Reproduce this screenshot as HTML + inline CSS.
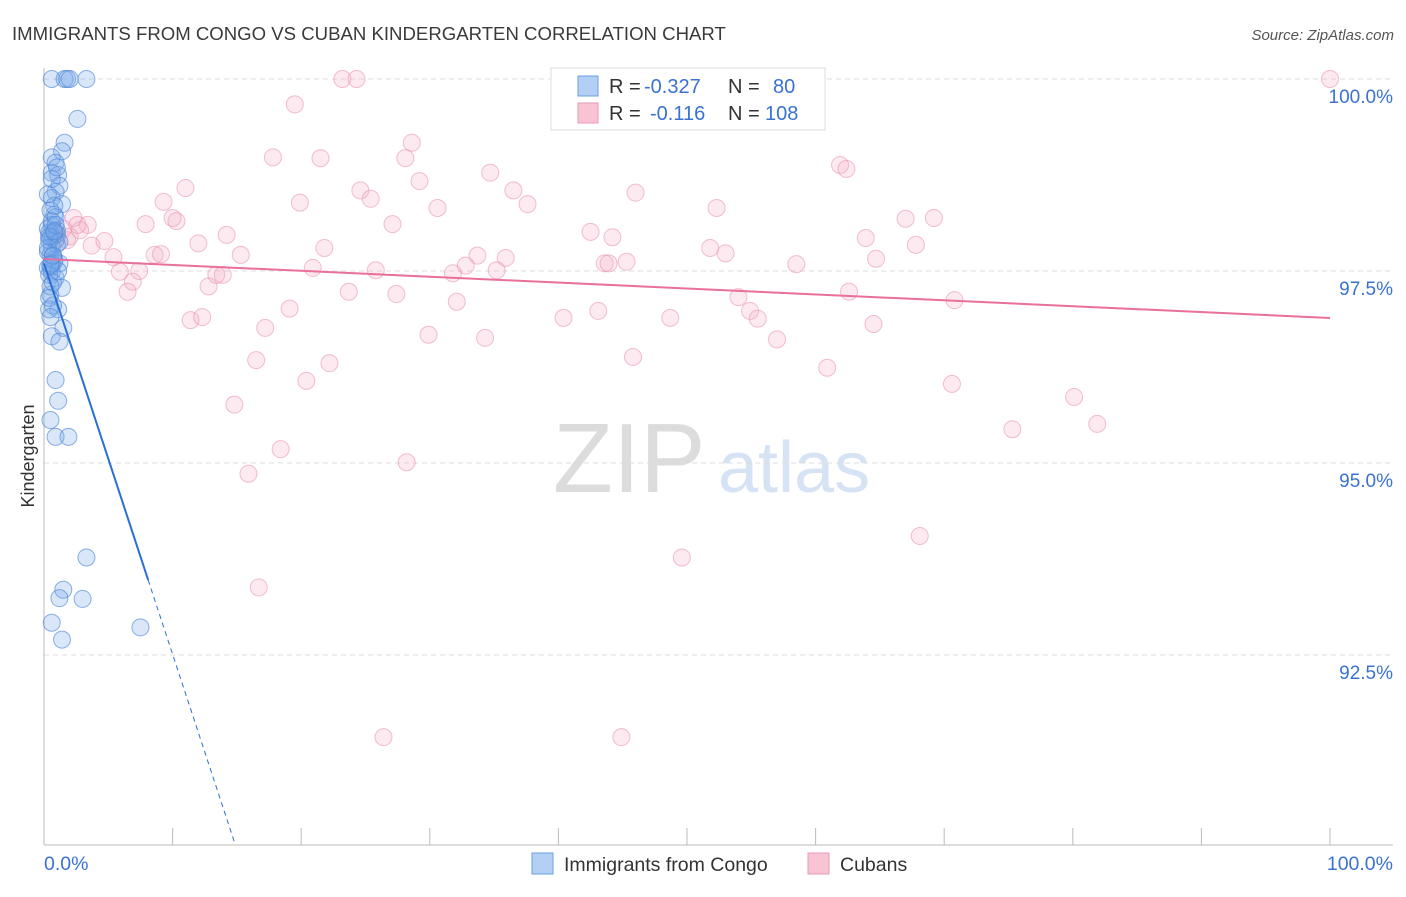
<!DOCTYPE html>
<html><head><meta charset="utf-8"><style>
body{margin:0;background:#fff;font-family:"Liberation Sans",sans-serif;}
svg text{font-family:"Liberation Sans",sans-serif;}
</style></head><body>
<svg id="chart" width="1406" height="892" xmlns="http://www.w3.org/2000/svg">
<text x="12" y="40" font-size="18.6" fill="#3a3a3a">IMMIGRANTS FROM CONGO VS CUBAN KINDERGARTEN CORRELATION CHART</text>
<text x="1394" y="40" font-size="15" fill="#555" font-style="italic" text-anchor="end">Source: ZipAtlas.com</text>
<text x="34" y="456" font-size="18" fill="#333" transform="rotate(-90 34 456)" text-anchor="middle">Kindergarten</text>
<g>
<text x="553" y="492" font-size="98" font-family="Liberation Serif" fill="#dcdcdc">ZIP</text>
<text x="718" y="492" font-size="72" fill="#d6e3f5">atlas</text>
</g>
<g id="grid"></g><g id="axes"></g><g id="pink"></g><g id="blue"></g><g id="lines"></g>
<g>
<rect x="551" y="68" width="274" height="62" fill="#fff" stroke="#ddd"/>
<rect x="578" y="76" width="20" height="20" fill="#b3d0f4" stroke="#6aa0e0"/>
<rect x="578" y="103" width="20" height="20" fill="#f8c3d3" stroke="#e898b4"/>
<text x="609" y="93" font-size="20" fill="#333">R = <tspan x="644" fill="#3a72d0">-0.327</tspan><tspan x="728">N = </tspan><tspan x="773" fill="#3a72d0">80</tspan></text>
<text x="609" y="120" font-size="20" fill="#333">R = <tspan x="650" fill="#3a72d0">-0.116</tspan><tspan x="728">N = </tspan><tspan x="765" fill="#3a72d0">108</tspan></text>
</g>
<g>
<rect x="532" y="853" width="21" height="21" fill="#b3d0f4" stroke="#6aa0e0"/>
<text x="564" y="871" font-size="19.5" fill="#333">Immigrants from Congo</text>
<rect x="808" y="853" width="21" height="21" fill="#f8c3d3" stroke="#e898b4"/>
<text x="840" y="871" font-size="19.5" fill="#333">Cubans</text>
</g>
</svg>
<script>
const yTicks=[100,97.5,95,92.5];
const yTickLabels=["100.0%","97.5%","95.0%","92.5%"];
const blueX=[0.6,1.6,1.8,2.0,3.3,2.6,1.6,1.4,0.6,0.9,0.6,1.1,1.2,0.9,0.6,1.4,0.5,0.8,0.6,1.0,0.5,0.9,0.6,0.5,0.8,0.3,0.6,0.9,1.4,0.5,1.1,0.4,1.5,0.6,1.2,0.9,1.1,0.5,0.9,1.9,3.3,1.5,1.2,3.0,0.6,1.4,7.5,0.4,0.7,1.0,0.3,0.8,0.5,1.2,0.4,0.7,1.0,0.3,0.6,0.9,0.4,0.7,1.1,0.5,0.8,0.3,0.6,1.0,0.4,0.7,0.5,0.8,0.3,0.6,0.9,0.4,0.7,1.2,0.5,0.8];
const blueY=[100,100,100,100,100,99.48,99.17,99.06,98.98,98.91,98.78,98.75,98.61,98.53,98.45,98.37,98.29,98.23,98.10,98.03,97.94,97.90,97.81,97.71,97.62,97.54,97.49,97.41,97.28,97.19,97.0,97.0,96.76,96.65,96.58,96.08,95.81,95.56,95.34,95.34,93.77,93.35,93.24,93.23,92.92,92.70,92.86,98.0,97.95,97.85,97.75,97.65,97.55,97.6,97.45,97.35,97.98,98.05,98.15,98.2,97.9,97.7,97.5,97.3,98.35,98.5,98.7,98.85,97.15,97.05,96.9,98.0,97.8,97.6,98.1,97.95,97.7,97.88,97.58,98.02];
const pinkX=[23.2,24.3,100,19.5,28.6,17.8,21.5,28.1,34.7,61.9,62.4,29.2,11.0,24.6,36.5,46.0,9.3,19.9,25.4,37.6,30.6,52.3,10.0,7.9,10.3,67.0,69.2,2.3,3.4,27.1,42.5,44.2,14.2,63.9,2.8,1.0,1.8,3.7,4.7,12.0,21.8,51.8,53.0,67.8,33.7,35.9,8.6,9.1,15.3,5.4,32.8,64.7,43.6,43.9,45.3,20.9,25.8,31.8,35.2,58.5,5.9,7.4,13.4,13.9,6.9,12.8,6.5,23.7,27.4,54.0,62.6,70.8,32.1,19.1,43.1,54.9,55.5,40.4,48.7,64.5,11.4,12.3,17.2,29.9,34.3,57.0,45.8,16.5,22.2,60.9,20.4,70.6,80.1,14.8,81.9,75.3,18.4,28.2,15.9,68.1,49.6,16.7,26.4,44.9,1.5,2.0,0.8,2.6];
const pinkY=[100,100,100,99.67,99.17,98.98,98.97,98.97,98.78,98.88,98.83,98.67,98.58,98.55,98.55,98.52,98.40,98.39,98.44,98.37,98.32,98.32,98.19,98.11,98.15,98.18,98.19,98.19,98.10,98.11,98.01,97.94,97.97,97.93,98.03,97.93,97.90,97.83,97.89,97.86,97.80,97.80,97.73,97.84,97.70,97.67,97.71,97.72,97.71,97.68,97.57,97.66,97.60,97.60,97.62,97.54,97.51,97.47,97.51,97.59,97.49,97.50,97.45,97.45,97.36,97.30,97.23,97.23,97.20,97.16,97.23,97.12,97.10,97.01,96.98,96.98,96.88,96.89,96.89,96.81,96.86,96.90,96.76,96.67,96.63,96.61,96.38,96.34,96.30,96.24,96.07,96.03,95.86,95.76,95.51,95.44,95.18,95.01,94.86,94.05,93.77,93.38,91.43,91.43,98.05,97.95,98.0,98.1];
const pinkTrend=[97.656,96.888];
const blueTrend=[97.6,93.477];
const blueSolidEnd=8.1;
const NS="http://www.w3.org/2000/svg";
const X0=44,X1=1330,YTOP=79,PX_PER_PCT=76.8,BOTTOM=845;
function sx(v){return X0+v*(X1-X0)/100;}
function sy(v){return YTOP+(100-v)*PX_PER_PCT;}
function mk(tag,attrs,parent){const e=document.createElementNS(NS,tag);for(const k in attrs)e.setAttribute(k,attrs[k]);parent.appendChild(e);return e;}
const grid=document.getElementById('grid'),axes=document.getElementById('axes');
yTicks.forEach((t,i)=>{
 const l=mk('line',{x1:X0,x2:1393,y1:sy(t),y2:sy(t),stroke:'#ddd','stroke-dasharray':'5,4'},grid);
 
 
 const tx=mk('text',{x:1393,y:sy(t)+24,'font-size':19,fill:'#3a72d0','text-anchor':'end'},axes);
 tx.textContent=yTickLabels[i];
 
 
});
const ax=mk('line',{x1:X0,x2:1393,y1:BOTTOM,y2:BOTTOM,stroke:'#bbb'},axes);


const ay=mk('line',{x1:X0,x2:X0,y1:68,y2:BOTTOM,stroke:'#bbb'},axes);


for(let i=0;i<=10;i++){
 const t=mk('line',{x1:sx(i*10),x2:sx(i*10),y1:828,y2:BOTTOM,stroke:'#bbb'},axes);
 
 
}
const xl=mk('text',{x:44,y:870,'font-size':19.5,fill:'#3a72d0'},axes);xl.textContent='0.0%';


const xr=mk('text',{x:1393,y:870,'font-size':19.5,fill:'#3a72d0','text-anchor':'end'},axes);xr.textContent='100.0%';


const pg=document.getElementById('pink');
pinkX.forEach((x,i)=>{
 const c=mk('circle',{cx:sx(x),cy:sy(pinkY[i]),r:8.5,fill:'rgba(244,170,195,0.25)',stroke:'rgba(232,140,172,0.55)','stroke-width':1},pg);
 
 
});
const bg=document.getElementById('blue');
blueX.forEach((x,i)=>{
 const c=mk('circle',{cx:sx(x),cy:sy(blueY[i]),r:8.5,fill:'rgba(120,170,235,0.28)',stroke:'rgba(80,135,215,0.65)','stroke-width':1},bg);
 
 
});
const lg=document.getElementById('lines');
const pl=mk('line',{x1:sx(0),y1:sy(pinkTrend[0]),x2:sx(100),y2:sy(pinkTrend[1]),stroke:'#e8709a','stroke-width':2},lg);


const slope=(blueTrend[1]-blueTrend[0])/blueSolidEnd;
const yBottom=100-(BOTTOM-YTOP)/PX_PER_PCT;
const xEnd=(yBottom-blueTrend[0])/slope;
const bl=mk('line',{x1:sx(0),y1:sy(blueTrend[0]),x2:sx(blueSolidEnd),y2:sy(blueTrend[1]),stroke:'#2a6fd6','stroke-width':2},lg);


const bd=mk('line',{x1:sx(blueSolidEnd),y1:sy(blueTrend[1]),x2:sx(xEnd),y2:sy(yBottom),stroke:'#2a6fd6','stroke-width':1,'stroke-dasharray':'5,4'},lg);


</script>
</body></html>
